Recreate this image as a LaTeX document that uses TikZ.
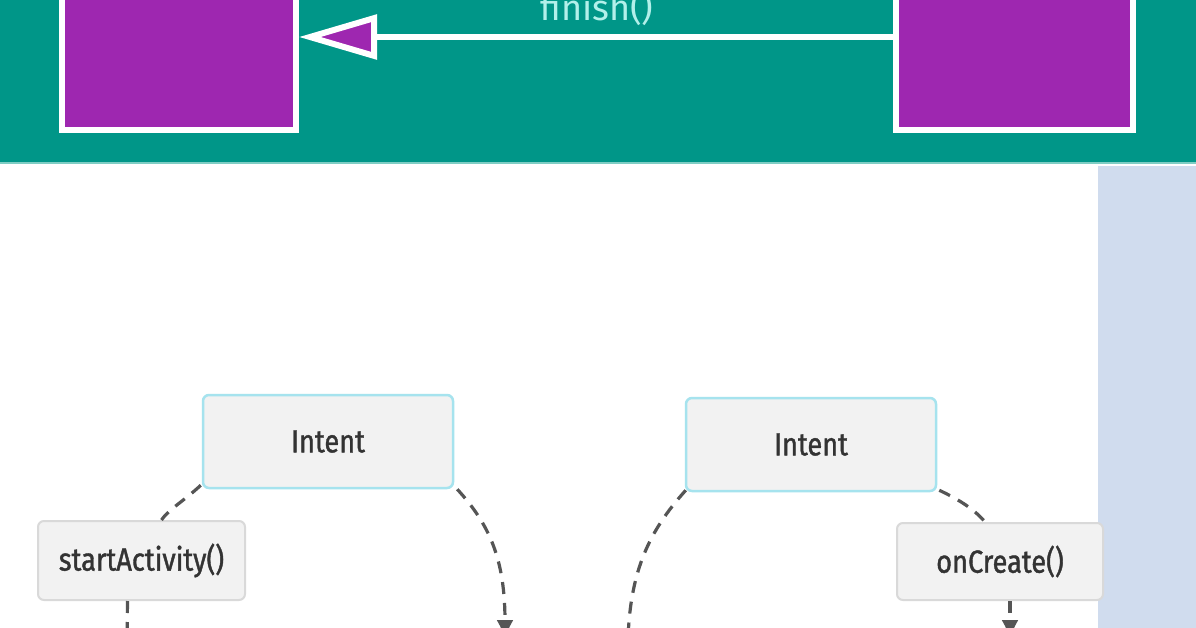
\documentclass[tikz,border=0pt]{standalone}
\usepackage{fontspec}
\setmainfont{Fira Sans}
\newfontfamily\lblfont[FakeBold=1.2,FakeStretch=0.85]{Fira Sans}
\usetikzlibrary{arrows.meta}
\definecolor{teal1}{HTML}{009688}
\definecolor{tealedge}{HTML}{7FCDC4}
\definecolor{purp}{HTML}{9E27B0}
\definecolor{panel}{HTML}{D0DCEE}
\definecolor{boxfill}{HTML}{F2F2F2}
\definecolor{cyanb}{HTML}{A6E3EE}
\definecolor{grayb}{HTML}{D9D9D9}
\definecolor{dashc}{HTML}{555555}
\definecolor{ftext}{HTML}{B2F0EA}
\definecolor{ink}{HTML}{333333}
\tikzset{
  actbox/.style={draw=white, line width=6pt, fill=purp, inner sep=0pt},
  intentbox/.style={draw=cyanb, line width=2.5pt, fill=boxfill, rounded corners=6pt,
    minimum width=250pt, minimum height=93pt, inner sep=0pt,
    font=\lblfont\fontsize{32}{34}\selectfont, text=ink},
  callbox/.style={intentbox, draw=grayb, line width=2pt},
  flow/.style={draw=dashc, line width=3.2pt, dash pattern=on 12pt off 9pt},
  tipdown/.style={-{Latex[length=20pt,width=17pt]}},
  finisharrow/.style={draw=white, line width=6pt,
    -{Triangle[length=78pt,width=44pt,fill=purp,line width=6pt]}}
}
\begin{document}
\begin{tikzpicture}[x=1pt,y=-1pt]
\useasboundingbox (0,0) rectangle (1196,628);
\fill[white] (0,0) rectangle (1196,628);
% teal band
\fill[teal1] (0,0) rectangle (1196,163);
\draw[tealedge, line width=1.5pt] (0,163) -- (1196,163);
% light blue panel
\fill[panel] (1098,166) rectangle (1196,628);

% activity boxes
\node[actbox, minimum width=234pt, minimum height=186pt] (act1) at (179,37) {};
\node[actbox, minimum width=237pt, minimum height=186pt] (act2) at (1014.5,37) {};
\draw[finisharrow] (act2.west) -- (act1.east);
\node[anchor=base, text=ftext, font=\fontsize{36}{38}\selectfont] (fin) at (597,21) {finish()};

% intent / call boxes
\node[intentbox] (iL) at (328,441.5) {Intent};
\node[intentbox] (iR) at (811,444.5) {Intent};
\node[callbox, minimum width=207pt, minimum height=79pt] (sa) at (141.5,560.5) {startActivity()};
\node[callbox, minimum width=206pt, minimum height=77pt] (oc) at (1000,561.5) {onCreate()};

\coordinate (saOut) at (127,640);
\coordinate (iLOut) at (505,640);
\coordinate (iROut) at (628,640);
\coordinate (ocOut) at (1010,640);

\draw[flow] ([shift={(-1,-4)}]iL.south west) .. controls (185,500) and (168,510) .. ([xshift=20pt]sa.north);
\draw[flow] ([xshift=-14pt]sa.south) -- (saOut);
\draw[flow, tipdown] ([shift={(3,0)}]iL.south east) .. controls (490,525) and (505,560) .. (iLOut);
\draw[flow] ([shift={(1,-2)}]iR.south west) .. controls (650,530) and (630,570) .. (iROut);
\draw[flow] ([shift={(2,-2)}]iR.south east) .. controls (960,500) and (975,510) .. ([xshift=-15pt]oc.north);
\draw[flow, tipdown] ([xshift=10pt]oc.south) -- (ocOut);
\end{tikzpicture}
\end{document}
